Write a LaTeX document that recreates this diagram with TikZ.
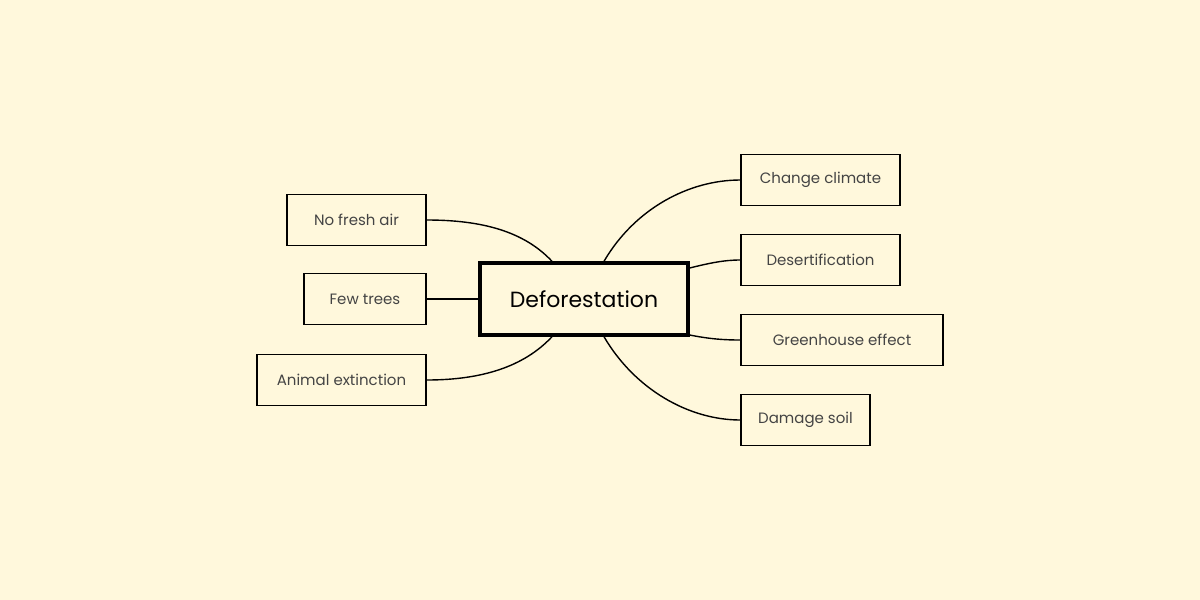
\documentclass[tikz,border=0pt]{standalone}
\usepackage{fontspec}
\setmainfont{Poppins}
\definecolor{paper}{HTML}{FFF8DC}
\definecolor{ink}{HTML}{444444}
\tikzset{
	leaf/.style={draw, line width=0.75pt, text=ink, minimum height=25.5pt, inner sep=0pt,
		font=\fontsize{7.5}{9}\selectfont},
	root/.style={draw, line width=1.7pt, minimum width=104pt, minimum height=36pt,
		inner sep=0pt, font=\fontsize{11}{13}\selectfont},
	link/.style={line width=0.7pt}
}
\begin{document}
\begin{tikzpicture}[x=0.5pt,y=-0.5pt]
	\fill[paper] (0,0) rectangle (1200,600);
	\useasboundingbox (0,0) rectangle (1200,600);
	
	\node[root] (cen) at (584,299) {Deforestation};
	
	\node[leaf, minimum width=69.5pt] (air) at (356.5,220) {No fresh air};
	\node[leaf, minimum width=61pt] (trees) at (365,299) {Few trees};
	\node[leaf, minimum width=84.5pt] (animal) at (341.5,380) {Animal extinction};
	
	\node[leaf, minimum width=79.5pt] (climate) at (820.5,180) {Change climate};
	\node[leaf, minimum width=79.5pt] (desert) at (820.5,260) {Desertification};
	\node[leaf, minimum width=101pt] (green) at (842,340) {Greenhouse effect};
	\node[leaf, minimum width=64.5pt] (soil) at (805.5,420) {Damage soil};
	
	\coordinate (cnw) at ([xshift=-16pt]cen.north);
	\coordinate (cne) at ([xshift=10pt]cen.north);
	\coordinate (csw) at ([xshift=-16pt]cen.south);
	\coordinate (cse) at ([xshift=10pt]cen.south);
	\coordinate (ceu) at ([yshift=15.5pt]cen.east);
	\coordinate (ced) at ([yshift=-18pt]cen.east);
	
	\draw[link] (air.east) .. controls +(55,0) and +(-28,-30) .. (cnw);
	\draw[link] (trees.east) -- (cen.west);
	\draw[link] (animal.east) .. controls +(55,0) and +(-28,30) .. (csw);
	
	\draw[link] (cne) .. controls +(31,-53) and +(-51,0) .. (climate.west);
	\draw[link] (ceu) .. controls +(20,-5) and +(-16,0) .. (desert.west);
	\draw[link] (ced) .. controls +(20,4) and +(-16,0) .. (green.west);
	\draw[link] (cse) .. controls +(31,53) and +(-51,0) .. (soil.west);
	\end{tikzpicture}
\end{document}
